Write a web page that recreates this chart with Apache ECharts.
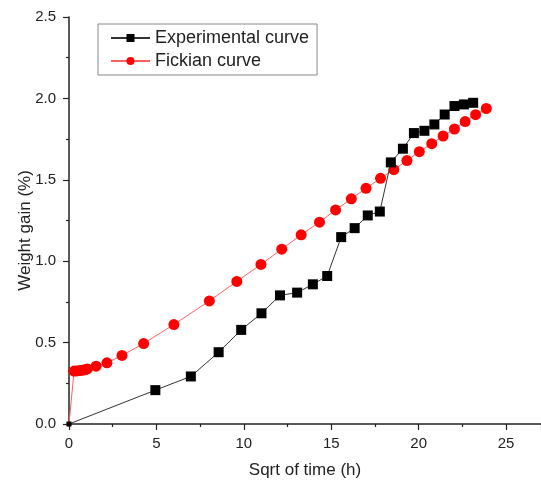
<!DOCTYPE html>
<html>
<head>
<meta charset="utf-8">
<script src="https://cdn.jsdelivr.net/npm/echarts@6/dist/echarts.min.js"></script>
<style>
  html, body { margin: 0; padding: 0; background: #fff; }
  #chart { width: 541px; height: 488px; }
</style>
</head>
<body>
<div id="chart"></div>
<script>
// Experimental curve (black squares)
const expX = [0, 4.94, 6.97, 8.56, 9.85, 11.01, 12.07, 13.05, 13.95, 14.77, 15.57, 16.34, 17.09, 17.78, 18.41, 19.10, 19.73, 20.33, 20.90, 21.49, 22.05, 22.59, 23.12];
const expY = [0, 0.208, 0.292, 0.441, 0.578, 0.680, 0.790, 0.807, 0.858, 0.909, 1.148, 1.203, 1.281, 1.305, 1.607, 1.691, 1.787, 1.801, 1.840, 1.901, 1.953, 1.963, 1.973];

// Fickian curve (red circles)
const fickX = [0, 0.29, 0.44, 0.6, 0.75, 0.9, 1.05, 1.55, 2.17, 3.03, 4.27, 6.0, 8.03, 9.6, 10.98, 12.17, 13.28, 14.33, 15.25, 16.15, 16.99, 17.82, 18.58, 19.33, 20.04, 20.75, 21.40, 22.05, 22.66, 23.26, 23.87];
const fickY = [0, 0.325, 0.326, 0.328, 0.330, 0.333, 0.338, 0.355, 0.376, 0.421, 0.494, 0.611, 0.756, 0.876, 0.980, 1.074, 1.162, 1.240, 1.315, 1.383, 1.448, 1.509, 1.562, 1.618, 1.673, 1.722, 1.769, 1.812, 1.858, 1.900, 1.938];

const seriesNames = ['Experimental curve', 'Fickian curve'];

function pairs(xs, ys) {
    return xs.map((x, i) => {
        const item = { value: [x, ys[i]] };
        if (x === 0) item.symbolSize = 5; // origin point is drawn small
        return item;
    });
}

const font = 'Liberation Sans, Arial, sans-serif';
const textColor = '#222';

const chart = echarts.init(document.getElementById('chart'));

const axisCommon = {
    axisLine: { show: true, lineStyle: { color: '#222', width: 1.5 } },
    axisTick: { show: true, inside: false, length: 6, lineStyle: { color: '#222', width: 1.2 } },
    minorTick: { show: true, splitNumber: 2, length: 3, lineStyle: { color: '#222', width: 1.2 } },
    splitLine: { show: false },
    nameMoveOverlap: false
};

chart.setOption({
    animation: false,
    backgroundColor: '#fff',
    grid: { left: 69, right: 0, top: 17, bottom: 64 },
    legend: {
        left: 98,
        top: 24,
        orient: 'vertical',
        data: seriesNames,
        itemWidth: 39,
        itemHeight: 10,
        itemGap: 5,
        padding: [5, 8, 5, 12],
        borderColor: '#888',
        borderWidth: 1,
        textStyle: { color: textColor, fontSize: 18, fontFamily: font }
    },
    xAxis: Object.assign({}, axisCommon, {
        type: 'value',
        min: 0,
        max: 27,
        interval: 5,
        name: 'Sqrt of time (h)',
        nameLocation: 'middle',
        nameGap: 38,
        nameTextStyle: { color: textColor, fontSize: 17, fontFamily: font },
        axisLabel: { color: textColor, fontSize: 15, fontFamily: font, margin: 12, showMaxLabel: false }
    }),
    yAxis: Object.assign({}, axisCommon, {
        type: 'value',
        min: 0,
        max: 2.5,
        interval: 0.5,
        name: 'Weight gain (%)',
        nameLocation: 'middle',
        nameGap: 35,
        nameTextStyle: { color: textColor, fontSize: 17, fontFamily: font, padding: [0, 20, 0, 0] },
        axisLabel: {
            color: textColor, fontSize: 15, fontFamily: font, margin: 13,
            formatter: v => v.toFixed(1)
        }
    }),
    series: [
        {
            name: seriesNames[0],
            type: 'line',
            data: pairs(expX, expY),
            symbol: 'rect',
            symbolSize: 10,
            z: 3,
            itemStyle: { color: '#000' },
            lineStyle: { color: '#333', width: 1 }
        },
        {
            name: seriesNames[1],
            type: 'line',
            data: pairs(fickX, fickY),
            symbol: 'circle',
            symbolSize: 11,
            z: 2,
            itemStyle: { color: '#ff0000' },
            lineStyle: { color: '#ff6060', width: 1 }
        }
    ]
});
</script>
</body>
</html>
